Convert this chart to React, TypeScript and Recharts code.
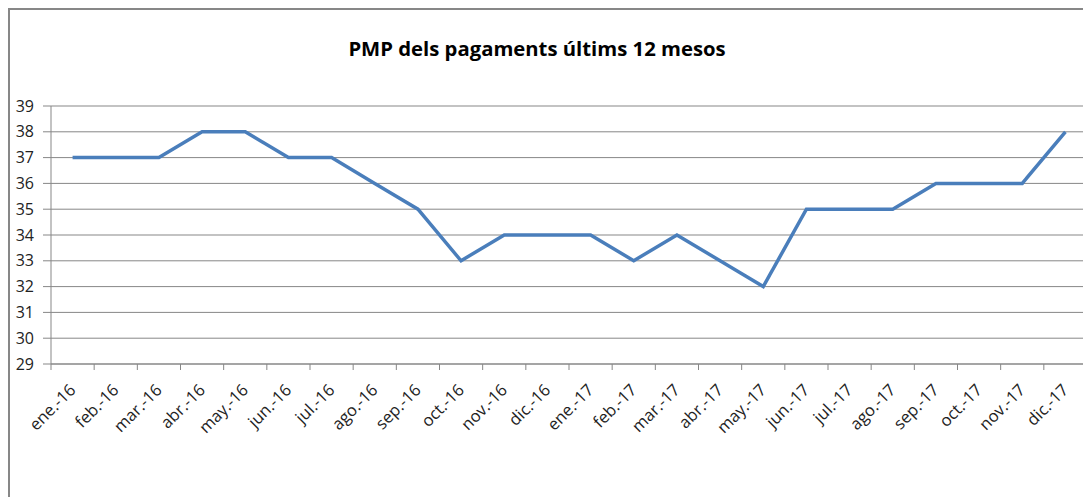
import { CartesianGrid, Line, LineChart, XAxis, YAxis } from "recharts";

const months = [
  "ene.-16", "feb.-16", "mar.-16", "abr.-16", "may.-16", "jun.-16",
  "jul.-16", "ago.-16", "sep.-16", "oct.-16", "nov.-16", "dic.-16",
  "ene.-17", "feb.-17", "mar.-17", "abr.-17", "may.-17", "jun.-17",
  "jul.-17", "ago.-17", "sep.-17", "oct.-17", "nov.-17", "dic.-17",
];
const pmp = [
  37, 37, 37, 38, 38, 37, 37, 36, 35, 33, 34, 34,
  34, 33, 34, 33, 32, 35, 35, 35, 36, 36, 36, 38,
];
const yTicks = [29, 30, 31, 32, 33, 34, 35, 36, 37, 38, 39];

const data = months.map((m, i) => ({ month: m, value: pmp[i] }));

const W = 1090;
const H = 480;
const LEFT = 41;
const RIGHT = 13;
const BAND = (W - LEFT - RIGHT) / months.length;
const FONT = "'Open Sans', 'Noto Sans', sans-serif";

function MonthTick(props: any) {
  const { x, y, payload } = props;
  const bx = x - BAND / 2;
  const ax = x + 4;
  const ay = y + 19;
  return (
    <g>
      <line x1={bx} y1={y - 8} x2={bx} y2={y - 2} stroke="#878787" />
      <text
        x={ax}
        y={ay}
        transform={`rotate(-45, ${ax}, ${ay})`}
        textAnchor="end"
        fontSize={16.5}
        fontFamily={FONT}
        fill="#222"
      >
        {payload.value}
      </text>
    </g>
  );
}

export default function App() {
  return (
    <div
      style={{
        position: "fixed",
        left: 8,
        top: 8,
        width: 1075,
        height: 489,
        overflow: "hidden",
        borderTop: "2px solid #878787",
        borderLeft: "2px solid #878787",
        background: "#fff",
      }}
    >
      <div
        style={{
          position: "absolute",
          left: 227,
          top: 26,
          width: 600,
          textAlign: "center",
          fontFamily: FONT,
          fontWeight: 700,
          fontSize: 20.3,
          lineHeight: "24px",
          color: "#000",
        }}
      >
        PMP dels pagaments últims 12 mesos
      </div>
      <LineChart width={W} height={H} data={data} margin={{ top: 96, right: RIGHT, left: 0, bottom: 0 }}>
        <CartesianGrid stroke="#878787" vertical={false} />
        <XAxis
          dataKey="month"
          interval={0}
          height={126}
          padding={{ left: BAND / 2, right: BAND / 2 }}
          tickLine={false}
          stroke="#878787"
          tick={<MonthTick />}
        />
        <YAxis
          width={LEFT}
          domain={[29, 39]}
          ticks={yTicks}
          interval={0}
          stroke="#878787"
          tickSize={8}
          tickMargin={9}
          tick={{ fontSize: 16, fontFamily: FONT, fill: "#222" }}
        />
        <Line
          type="linear"
          dataKey="value"
          stroke="#4A7EBB"
          strokeWidth={3.5}
          dot={false}
          isAnimationActive={false}
        />
      </LineChart>
    </div>
  );
}
